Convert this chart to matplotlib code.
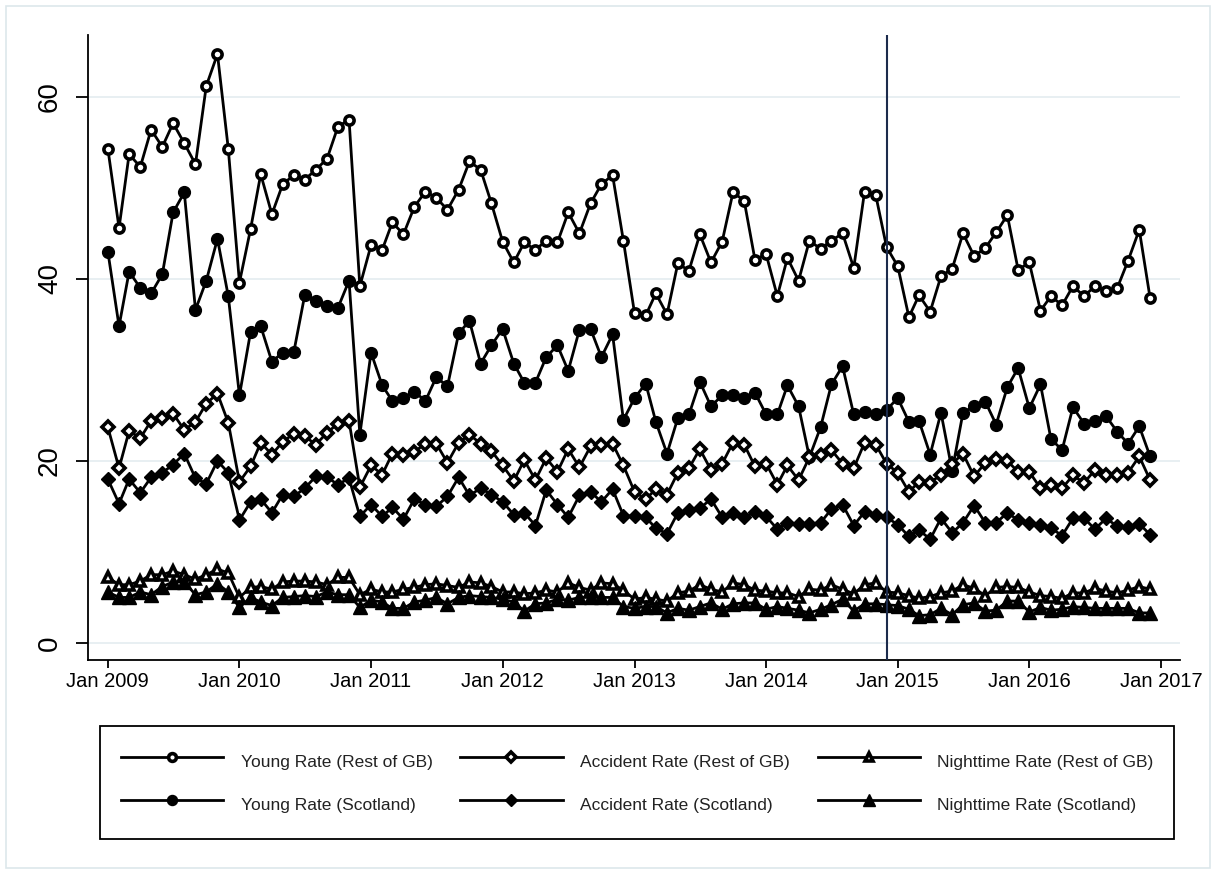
import matplotlib
matplotlib.use('Agg')
import matplotlib.pyplot as plt
import matplotlib.dates as mdates
import pandas as pd
from matplotlib.patches import Rectangle

plt.rcParams['font.family'] = ['Liberation Sans', 'DejaVu Sans']

# monthly rates, Jan 2009 - Dec 2016
months = pd.date_range('2009-01-01', periods=96, freq='MS')

young_gb = [54.3, 45.6, 53.7, 52.3, 56.4, 54.5, 57.1, 54.9, 52.6, 61.2, 64.7, 54.3,
            39.6, 45.5, 51.5, 47.1, 50.4, 51.4, 50.9, 52.0, 53.2, 56.7, 57.5, 39.2,
            43.7, 43.2, 46.2, 44.9, 47.9, 49.6, 48.9, 47.6, 49.8, 52.9, 52.0, 48.3,
            44.1, 41.8, 44.0, 43.2, 44.2, 44.0, 47.3, 45.0, 48.3, 50.4, 51.4, 44.2,
            36.2, 36.0, 38.4, 36.1, 41.7, 40.9, 44.9, 41.8, 44.1, 49.5, 48.6, 42.1,
            42.7, 38.1, 42.3, 39.8, 44.2, 43.3, 44.2, 45.0, 41.2, 49.6, 49.2, 43.5,
            41.4, 35.8, 38.2, 36.4, 40.3, 41.1, 45.0, 42.5, 43.4, 45.1, 47.0, 41.0,
            41.8, 36.5, 38.1, 37.1, 39.2, 38.1, 39.2, 38.7, 39.0, 42.0, 45.4, 37.9]

young_scot = [43.0, 34.8, 40.8, 39.0, 38.4, 40.5, 47.3, 49.5, 36.6, 39.8, 44.4, 38.1,
              27.2, 34.2, 34.8, 30.9, 31.9, 32.0, 38.2, 37.6, 37.0, 36.8, 39.8, 22.9,
              31.9, 28.3, 26.6, 26.9, 27.6, 26.6, 29.2, 28.2, 34.0, 35.4, 30.7, 32.7,
              34.5, 30.7, 28.6, 28.6, 31.4, 32.7, 29.9, 34.4, 34.5, 31.4, 33.9, 24.5,
              26.9, 28.5, 24.3, 20.8, 24.7, 25.1, 28.7, 26.0, 27.2, 27.2, 26.9, 27.5,
              25.1, 25.1, 28.3, 26.0, 20.4, 23.7, 28.4, 30.4, 25.1, 25.4, 25.1, 25.6,
              26.9, 24.3, 24.4, 20.7, 25.3, 18.9, 25.3, 26.0, 26.5, 24.0, 28.1, 30.2,
              25.8, 28.4, 22.4, 21.2, 25.9, 24.1, 24.4, 24.9, 23.2, 21.9, 23.8, 20.5]

acc_gb = [23.7, 19.2, 23.3, 22.5, 24.4, 24.7, 25.2, 23.4, 24.3, 26.3, 27.4, 24.2,
          17.7, 19.4, 22.0, 20.7, 22.1, 23.0, 22.7, 21.8, 23.1, 24.1, 24.4, 17.1,
          19.5, 18.5, 20.8, 20.7, 21.0, 21.9, 21.9, 19.8, 22.0, 22.9, 21.9, 21.1,
          19.5, 17.8, 20.1, 17.9, 20.3, 18.8, 21.3, 19.3, 21.6, 21.8, 21.9, 19.5,
          16.6, 15.8, 16.9, 16.3, 18.7, 19.2, 21.3, 19.0, 19.7, 22.0, 21.8, 19.4,
          19.7, 17.4, 19.5, 17.9, 20.4, 20.7, 21.2, 19.7, 19.2, 22.0, 21.8, 19.7,
          18.7, 16.6, 17.7, 17.6, 18.5, 19.7, 20.8, 18.3, 19.8, 20.2, 20.0, 18.8,
          18.8, 17.0, 17.4, 17.0, 18.4, 17.6, 19.0, 18.5, 18.5, 18.7, 20.5, 17.9]

acc_scot = [18.0, 15.3, 18.0, 16.5, 18.2, 18.7, 19.6, 20.8, 18.1, 17.5, 20.0, 18.7,
            13.5, 15.5, 15.8, 14.3, 16.3, 16.1, 17.0, 18.3, 18.2, 17.4, 18.1, 13.9,
            15.2, 13.9, 14.9, 13.6, 15.8, 15.2, 15.0, 16.1, 18.2, 16.2, 17.0, 16.3,
            15.5, 14.1, 14.3, 12.9, 16.8, 15.2, 13.8, 16.2, 16.6, 15.5, 16.9, 14.0,
            13.9, 13.8, 12.6, 12.0, 14.3, 14.6, 14.8, 15.8, 13.8, 14.3, 13.8, 14.4,
            13.9, 12.5, 13.2, 13.1, 13.1, 13.2, 14.7, 15.2, 12.9, 14.4, 14.1, 13.8,
            13.0, 11.7, 12.4, 11.4, 13.7, 12.1, 13.2, 15.1, 13.2, 13.2, 14.3, 13.5,
            13.2, 13.0, 12.6, 11.8, 13.7, 13.7, 12.5, 13.7, 12.8, 12.7, 13.1, 11.9]

night_gb = [7.2, 6.4, 6.4, 6.8, 7.5, 7.5, 7.9, 7.5, 7.0, 7.5, 8.1, 7.7,
            5.0, 6.1, 6.2, 5.9, 6.7, 6.8, 6.8, 6.7, 6.4, 7.2, 7.2, 5.3,
            5.9, 5.6, 5.6, 5.9, 6.1, 6.4, 6.5, 6.3, 6.1, 6.7, 6.6, 6.2,
            5.6, 5.6, 5.4, 5.5, 5.8, 5.6, 6.6, 6.1, 5.8, 6.6, 6.5, 5.8,
            4.8, 5.0, 4.8, 4.6, 5.5, 5.7, 6.4, 5.9, 5.6, 6.6, 6.4, 5.8,
            5.7, 5.5, 5.5, 5.1, 5.9, 5.8, 6.4, 5.9, 5.4, 6.4, 6.6, 5.6,
            5.5, 5.2, 4.9, 5.1, 5.5, 5.7, 6.4, 6.0, 5.2, 6.1, 6.2, 6.1,
            5.6, 5.2, 5.1, 4.9, 5.5, 5.5, 6.0, 5.7, 5.5, 5.8, 6.2, 5.9]

night_scot = [5.6, 5.0, 5.0, 5.6, 5.3, 6.2, 6.7, 6.7, 5.3, 5.6, 6.5, 5.6,
              3.9, 5.0, 4.5, 4.1, 5.0, 5.1, 5.2, 5.1, 5.6, 5.3, 5.3, 3.9,
              4.7, 4.5, 3.8, 3.8, 4.5, 4.7, 5.0, 4.3, 5.0, 5.2, 5.1, 5.0,
              4.8, 4.5, 3.5, 4.3, 4.4, 4.8, 4.7, 5.0, 5.0, 5.0, 5.0, 4.0,
              3.8, 4.0, 4.0, 3.3, 3.8, 3.6, 4.0, 4.4, 3.7, 4.3, 4.4, 4.4,
              3.7, 4.0, 3.8, 3.6, 3.3, 3.7, 4.2, 4.8, 3.5, 4.3, 4.3, 4.2,
              4.1, 3.7, 3.0, 3.1, 3.8, 3.1, 4.2, 4.4, 3.5, 3.6, 4.6, 4.6,
              3.4, 3.9, 3.6, 3.7, 4.0, 3.9, 3.8, 3.8, 3.8, 3.8, 3.3, 3.3]

policy_date = pd.Timestamp('2014-12-01')
tick_dates = pd.date_range('2009-01-01', '2017-01-01', freq='YS')

fig = plt.figure(figsize=(12.16, 8.74), dpi=100)
fig.set_facecolor('white')
ax = fig.add_axes((0.0724, 0.2449, 0.8980, 0.7151))

# faint outer frame like the stata graph region
fig.patches.append(Rectangle((6 / 1216, 6 / 874), 1204 / 1216, 862 / 874,
                             transform=fig.transFigure, fill=False,
                             edgecolor='#dde7eb', linewidth=1.2))

line_kw = dict(color='black', linewidth=2.0)
# hollow stata-style markers: thick ring, small white centre
open_kw = dict(mfc='white', mec='black', mew=2.6)
fill_kw = dict(mfc='black', mec='black')
h_ygb, = ax.plot(months, young_gb, marker='o', ms=6.6, label='Young Rate (Rest of GB)',
                 **open_kw, **line_kw)
h_ysc, = ax.plot(months, young_scot, marker='o', ms=8.5, label='Young Rate (Scotland)',
                 **fill_kw, **line_kw)
h_agb, = ax.plot(months, acc_gb, marker='D', ms=5.8, label='Accident Rate (Rest of GB)',
                 **open_kw, **line_kw)
h_asc, = ax.plot(months, acc_scot, marker='D', ms=7.5, label='Accident Rate (Scotland)',
                 **fill_kw, **line_kw)
h_ngb, = ax.plot(months, night_gb, marker='^', ms=7.4, label='Nighttime Rate (Rest of GB)',
                 **open_kw, **line_kw)
h_nsc, = ax.plot(months, night_scot, marker='^', ms=9.5, label='Nighttime Rate (Scotland)',
                 **fill_kw, **line_kw)

ax.axvline(policy_date, color='#1c2b4c', linewidth=1.5, zorder=5)

ax.set_xlim(pd.Timestamp('2008-11-07'), pd.Timestamp('2017-02-22'))
ax.set_ylim(-1.87, 66.8)
ax.set_yticks([0, 20, 40, 60])
ax.set_xticks(tick_dates)
ax.xaxis.set_major_formatter(mdates.DateFormatter('%b %Y'))
ax.grid(axis='y', color='#e6eef1', linewidth=1.3, zorder=0)
ax.set_axisbelow(True)

for side in ['top', 'right']:
    ax.spines[side].set_visible(False)
for side in ['left', 'bottom']:
    ax.spines[side].set_linewidth(1.3)

ax.tick_params(axis='y', length=9, width=1.3, pad=9, labelsize=20, labelrotation=90)
ax.tick_params(axis='x', length=6, width=1.3, pad=3, labelsize=14.5)
for lab in ax.get_yticklabels():
    lab.set_va('center')

handles = [h_ygb, h_ysc, h_agb, h_asc, h_ngb, h_nsc]
leg = fig.legend(handles=handles, loc='upper left', ncol=3,
                 bbox_to_anchor=(100 / 1216, 1 - 726 / 874), bbox_transform=fig.transFigure,
                 borderaxespad=0, fontsize=12.5, handlelength=5.9, handleheight=2.15,
                 handletextpad=1.0, columnspacing=1.6, labelspacing=0.85, borderpad=1.2,
                 markerscale=0.85, fancybox=False, framealpha=1, edgecolor='black')
leg.get_frame().set_linewidth(1.3)
for t in leg.get_texts():
    t.set_color('#222222')

fig.savefig('out.png', dpi=100)
